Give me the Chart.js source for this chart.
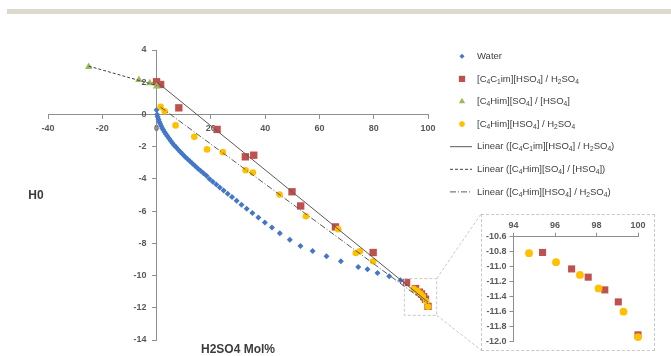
<!DOCTYPE html>
<html>
<head>
<meta charset="utf-8">
<script src="https://cdn.jsdelivr.net/npm/chart.js@4.4.1/dist/chart.umd.min.js"></script>
<style>
  body { margin: 0; background: #fff; }
  #wrap { position: relative; width: 671px; height: 356px; overflow: hidden; }
  #topbar { position: absolute; left: 7px; top: 9px; width: 664px; height: 5px; background: #ddd9cd; }
  #myChart { position: absolute; left: 0; top: 0; }
  #insetBox { position: absolute; left: 481px; top: 214px; width: 172px; height: 135px; border: 1px dashed #c8c8c8; }
</style>
</head>
<body>
<div id="wrap">
  <div id="topbar"></div>
  <canvas id="myChart" width="671" height="356"></canvas>
  <div id="insetBox"><canvas id="insetChart" width="172" height="135"></canvas></div>
</div>
<script>
// dados
const waterX = [0, 0.2, 0.4, 0.7, 1.0, 1.3, 1.7, 2.1, 2.5, 3.0, 3.5, 4.0, 4.6, 5.2, 5.8, 6.5, 7.2, 8.0, 8.8, 9.6,
  10.5, 11.4, 12.3, 13.2, 14.2, 15.2, 16.2, 17.3, 18.4, 19.5, 20.7, 22.0, 23.3, 24.7, 26.2, 27.8, 29.5, 31.3,
  33.2, 35.3, 37.5, 39.9, 42.5, 45.4, 49.1, 53.0, 57.5, 62.6, 67.9, 74.3, 77.7, 81.4, 85.7, 89.9];
const waterY = [0.27, 0.0, -0.15, -0.3, -0.45, -0.58, -0.72, -0.85, -0.97, -1.1, -1.23, -1.36, -1.5, -1.64, -1.77, -1.91, -2.04, -2.19, -2.33, -2.47,
  -2.62, -2.77, -2.91, -3.05, -3.2, -3.35, -3.5, -3.65, -3.8, -4.0, -4.17, -4.35, -4.53, -4.72, -4.92, -5.13, -5.36, -5.6,
  -5.85, -6.12, -6.4, -6.7, -7.02, -7.38, -7.78, -8.16, -8.47, -8.8, -9.11, -9.47, -9.61, -9.84, -10.04, -10.29];

const c4c1imX = [0, 1.5, 8.2, 22.3, 32.7, 35.8, 49.9, 53.1, 65.9, 79.8, 92.1, 95.4, 96.8, 97.6, 98.4, 99.05, 100];
const c4c1imY = [2.03, 1.86, 0.41, -0.93, -2.63, -2.53, -4.8, -5.68, -6.98, -8.57, -10.43, -10.81, -11.03, -11.14, -11.31, -11.47, -11.91];

const himSo4X = [-25, -6.5, -2.5, 0];
const himSo4Y = [2.95, 2.15, 1.95, 1.75];

const himHso4X = [1.5, 3.0, 7.0, 13.9, 18.6, 24.4, 32.8, 35.5, 45.3, 55.0, 66.9, 73.4, 74.9, 79.8, 94.75, 96.05, 97.2, 98.1, 99.3, 100];
const himHso4Y = [0.47, 0.2, -0.68, -1.39, -2.17, -2.34, -3.46, -3.6, -4.97, -6.32, -7.12, -8.6, -8.49, -9.11, -10.82, -10.94, -11.11, -11.29, -11.6, -11.94];

// linhas de tendencia (pontas)
const fitC4c1imX = [0, 100];
const fitC4c1imY = [2.03, -11.65];
const fitHimSo4X = [-25, 0];
const fitHimSo4Y = [3.0, 1.8];
const fitHimHso4X = [1.5, 100];
const fitHimHso4Y = [0.45, -11.75];

const seriesNames = [
  'Water',
  '[C_4C_1im][HSO_4] / H_2SO_4',
  '[C_4Him][SO_4] / [HSO_4]',
  '[C_4Him][HSO_4] / H_2SO_4',
  'Linear ([C_4C_1im][HSO_4] / H_2SO_4)',
  'Linear ([C_4Him][SO_4] / [HSO_4])',
  'Linear ([C_4Him][HSO_4] / H_2SO_4)'
];
const xTitle = 'H2SO4 Mol%';
const yTitle = 'H0';

// caixa do zoom (valores do eixo)
const zoomBoxX = [91.3, 103.2];
const zoomBoxY = [-10.19, -12.47];

function pts(xs, ys) {
  return xs.map((x, i) => ({ x: x, y: ys[i] }));
}

const tickFont = { family: '"Liberation Sans", Arial, sans-serif', size: 9, weight: 'bold' };
const axisGray = '#8e8e8e';

const mainSets = [
  { data: pts(waterX, waterY), pointStyle: 'rectRot', pointRadius: 3, backgroundColor: '#4477c9', borderColor: '#4477c9', borderWidth: 0, order: 7 },
  { data: pts(c4c1imX, c4c1imY), pointStyle: 'rect', pointRadius: 5.2, backgroundColor: '#c0504d', borderColor: '#c0504d', borderWidth: 0, order: 6 },
  { data: pts(himSo4X, himSo4Y), pointStyle: 'triangle', pointRadius: 4.3, backgroundColor: '#9bbb59', borderColor: '#9bbb59', borderWidth: 0, order: 5 },
  { data: pts(himHso4X, himHso4Y), pointStyle: 'circle', pointRadius: 3.3, backgroundColor: '#ffc000', borderColor: '#ffc000', borderWidth: 0, order: 4 },
  { data: pts(fitC4c1imX, fitC4c1imY), showLine: true, pointRadius: 0, borderColor: '#595959', borderWidth: 1, order: 1 },
  { data: pts(fitHimSo4X, fitHimSo4Y), showLine: true, pointRadius: 0, borderColor: '#404040', borderWidth: 1, borderDash: [3, 2], order: 2 },
  { data: pts(fitHimHso4X, fitHimHso4Y), showLine: true, pointRadius: 0, borderColor: '#595959', borderWidth: 1, borderDash: [6, 2, 1, 2], order: 3 }
];
mainSets.forEach(d => { d.clip = false; });

// texto com subscrito: _4 -> 4 pequeno
function drawRich(ctx, txt, x, y, size) {
  txt.split(/(_\d)/).forEach(p => {
    if (!p) return;
    if (p[0] === '_') {
      ctx.font = (size * 0.7) + 'px "Liberation Sans", Arial, sans-serif';
      ctx.fillText(p[1], x, y + size * 0.3);
      x += ctx.measureText(p[1]).width;
    } else {
      ctx.font = size + 'px "Liberation Sans", Arial, sans-serif';
      ctx.fillText(p, x, y);
      x += ctx.measureText(p).width;
    }
  });
}

const extras = {
  id: 'extras',
  afterDraw(chart) {
    const ctx = chart.ctx;
    const xs = chart.scales.x, ys = chart.scales.y;
    ctx.save();

    // titulos
    ctx.fillStyle = '#3c3c3c';
    ctx.font = 'bold 12px "Liberation Sans", Arial, sans-serif';
    ctx.textAlign = 'center';
    ctx.textBaseline = 'middle';
    ctx.fillText(yTitle, 36, 196);
    ctx.fillText(xTitle, 238, 350);

    // caixa pontilhada + ligacoes ate o zoom
    const bx0 = xs.getPixelForValue(zoomBoxX[0]), bx1 = xs.getPixelForValue(zoomBoxX[1]);
    const by0 = ys.getPixelForValue(zoomBoxY[0]), by1 = ys.getPixelForValue(zoomBoxY[1]);
    ctx.strokeStyle = '#c8c8c8';
    ctx.lineWidth = 1;
    ctx.setLineDash([3, 2]);
    ctx.strokeRect(bx0, by0, bx1 - bx0, by1 - by0);
    ctx.beginPath();
    ctx.moveTo(bx1, by0); ctx.lineTo(481, 214);
    ctx.moveTo(bx1, by1); ctx.lineTo(481, 350);
    ctx.stroke();

    // legenda
    ctx.textAlign = 'left';
    ctx.textBaseline = 'middle';
    seriesNames.forEach((name, i) => {
      const ds = mainSets[i];
      const ly = 56.3 + i * 22.6;
      ctx.save();
      if (i < 4) {
        ctx.fillStyle = ds.backgroundColor;
        ctx.strokeStyle = ds.borderColor;
        ctx.setLineDash([]);
        Chart.helpers.drawPoint(ctx, { pointStyle: ds.pointStyle, radius: ds.pointRadius * 0.85, rotation: 0, borderWidth: 0 }, 462, ly);
      } else {
        ctx.strokeStyle = ds.borderColor;
        ctx.lineWidth = 1;
        ctx.setLineDash(ds.borderDash || []);
        ctx.beginPath();
        ctx.moveTo(450, ly); ctx.lineTo(472, ly);
        ctx.stroke();
      }
      ctx.restore();
      ctx.fillStyle = '#404040';
      drawRich(ctx, name, 477, ly, 9.5);
    });
    ctx.restore();
  }
};

new Chart(document.getElementById('myChart').getContext('2d'), {
  type: 'scatter',
  data: { datasets: mainSets },
  options: {
    responsive: false,
    animation: false,
    devicePixelRatio: 1,
    layout: { padding: { left: 48, right: 243, top: 50, bottom: 16 } },
    plugins: { legend: { display: false }, tooltip: { enabled: false } },
    scales: {
      x: {
        type: 'linear', min: -40, max: 100, position: { y: 0 },
        ticks: { stepSize: 20, color: '#595959', font: tickFont, padding: 5 },
        grid: { drawOnChartArea: false, tickLength: 4, color: axisGray },
        border: { color: axisGray }
      },
      y: {
        type: 'linear', min: -14, max: 4, position: { x: 0 },
        // com position {x:0} o chart.js encosta o texto no eixo, entao empurra com espacos
        ticks: { stepSize: 2, color: '#595959', font: tickFont, callback: v => v + '    ' },
        grid: { drawOnChartArea: false, tickLength: 4, color: axisGray },
        border: { color: axisGray }
      }
    }
  },
  plugins: [extras]
});

// grafico do zoom
const insetSets = [
  { data: pts(c4c1imX, c4c1imY), pointStyle: 'rect', pointRadius: 5, backgroundColor: '#c0504d', borderWidth: 0, clip: false, order: 2 },
  { data: pts(himHso4X, himHso4Y), pointStyle: 'circle', pointRadius: 3.9, backgroundColor: '#ffc000', borderWidth: 0, clip: false, order: 1 }
];

new Chart(document.getElementById('insetChart').getContext('2d'), {
  type: 'scatter',
  data: { datasets: insetSets },
  options: {
    responsive: false,
    animation: false,
    devicePixelRatio: 1,
    layout: { padding: { left: 0, right: 16, top: 0, bottom: 8 } },
    plugins: { legend: { display: false }, tooltip: { enabled: false } },
    scales: {
      x: {
        type: 'linear', min: 94, max: 100, position: 'top',
        ticks: { stepSize: 2, color: '#595959', font: tickFont, padding: 2 },
        grid: { drawOnChartArea: false, tickLength: 4, color: axisGray },
        border: { color: axisGray },
        afterFit(s) { s.height = 21.7; }
      },
      y: {
        type: 'linear', min: -12, max: -10.6,
        ticks: { stepSize: 0.2, color: '#595959', font: tickFont, padding: 3 },
        grid: { drawOnChartArea: false, tickLength: 4, color: axisGray },
        border: { color: axisGray },
        afterFit(s) { s.width = 31.5; }
      }
    }
  }
});
</script>
</body>
</html>
